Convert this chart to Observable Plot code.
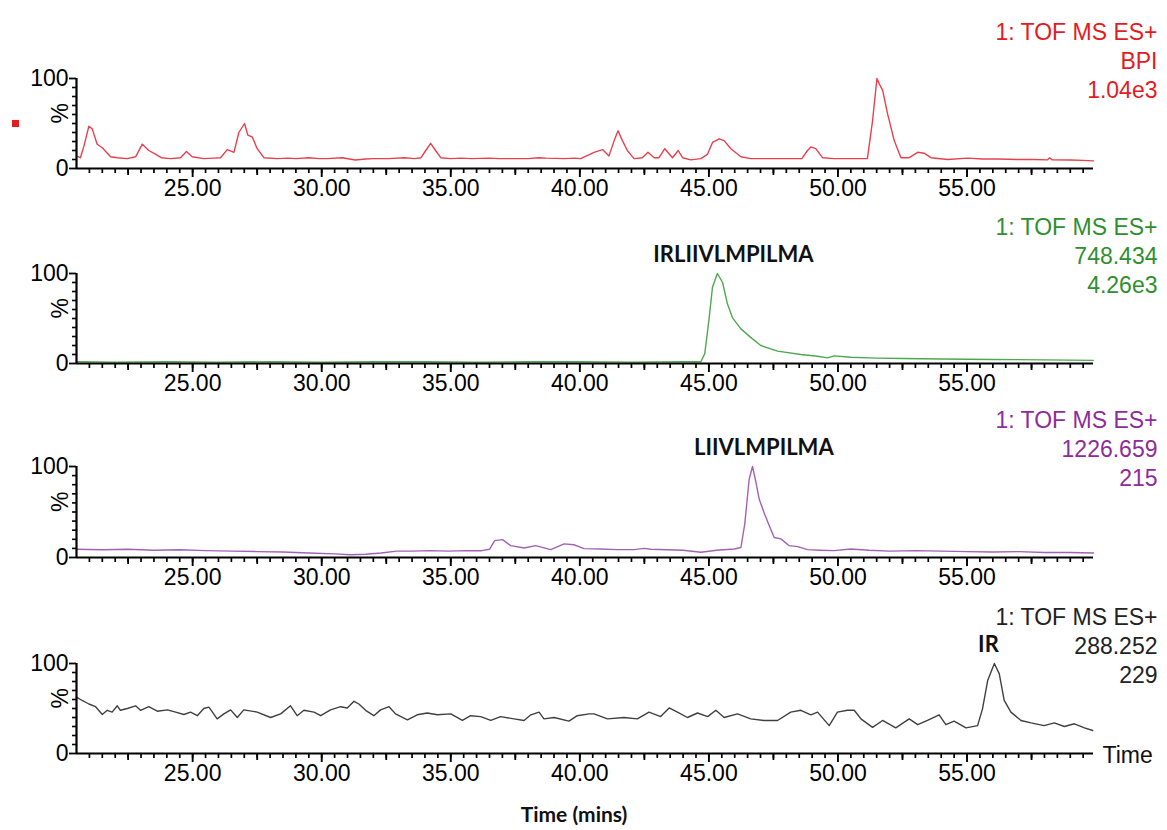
<!DOCTYPE html>
<html><head><meta charset="utf-8">
<script src="https://cdn.jsdelivr.net/npm/d3@7"></script>
<script src="https://cdn.jsdelivr.net/npm/@observablehq/plot@0.6"></script>
<style>
body{margin:0;background:#fff;overflow:hidden}
#chart{position:relative;width:1167px;height:830px}
#chart svg{position:absolute;left:0}
</style></head><body><div id="chart"></div>
<script>
// ---- axis ticks ----
const xDomain = [20.5, 59.9];
const majorTicks = [25, 30, 35, 40, 45, 50, 55];
const midTicks = [22.5, 27.5, 32.5, 37.5, 42.5, 47.5, 52.5, 57.5];
const minorTicks = d3.range(21, 60, 0.5);
const yMajorTicks = [0, 100];
const yMinorTicks = [10, 20, 30, 40, 50, 60, 70, 80, 90];

// ---- panel 1: BPI ----
const bpiTime = [20.5,20.65,20.78,20.98,21.11,21.3,21.5,21.82,22.08,22.46,22.79,23.05,23.3,23.56,23.78,24.14,24.53,24.76,24.98,25.43,25.8,26.08,26.34,26.6,26.79,27.01,27.14,27.31,27.5,27.76,28.28,28.7,29.0,29.5,29.9,30.2,30.8,31.3,31.7,32.0,32.6,33.2,33.6,33.85,34.03,34.22,34.41,34.61,35.0,35.4,35.8,36.5,36.9,37.2,38.0,38.4,38.7,39.4,39.8,40.03,40.55,40.88,41.13,41.33,41.48,41.65,41.84,42.1,42.42,42.64,42.88,43.07,43.29,43.59,43.81,43.98,44.3,44.69,44.95,45.14,45.4,45.59,45.85,46.24,46.62,47.2,47.8,48.3,48.6,48.82,48.95,49.14,49.4,49.85,50.5,51.14,51.34,51.51,51.6,51.73,51.92,52.18,52.44,52.76,53.09,53.34,53.6,54.25,55.03,55.6,56.18,57.0,57.6,58.12,58.2,58.3,59.0,59.5,59.9];
const bpiPct  = [14,12,24,47,44,27,23,13,12,11,13,27,20,16,12,11,12,19,13,11,11.5,12,21,18,40,50,37,35,22,12,11,11.5,11,12,11,11,12,9.5,10.5,11,11,12,11,12,20,28,20,12,11,11.5,11,11.5,11,11,11,12,11.5,11,11.5,11,18,21,14,31,42,31,20,11,12,18,12,12,22,12,20,12,9.6,11,16,29,33,31,22,13,11,11,11,11,11,20,24,22,12,11,11,11,53,100,94,87,61,31,12,12,18,17,12,10,11.5,10.5,10.5,10,10,9.6,12,9.6,9.5,9,8.5];

// ---- panel 2: 748.434 ----
const p748Time = [20.5,22,24,26,28,30,32,34,36,38,40,42,44,44.69,44.84,45.0,45.14,45.33,45.53,45.72,45.91,46.24,46.62,47.01,47.66,48.56,49.2,49.6,49.85,50.5,51.5,52.5,54,56,58,59.9];
const p748Pct  = [2,1.5,2,1.5,2,1.5,2,2,1.5,2,2,1.5,2,2,11,48,85,100,90,66,51,38.5,29,20,13.7,10,8,6.3,8.5,7,6,5.5,5,4.5,4,3.5];

// ---- panel 3: 1226.659 ----
const p1226Time = [20.5,21.5,22.5,23.5,24.5,25.5,26.5,27.5,28.5,29.5,30.5,31.1,31.7,32.3,32.9,33.5,34.2,34.9,35.6,36.2,36.5,36.7,37.0,37.32,37.84,38.29,38.87,39.39,39.77,40.16,40.81,41.46,42.1,42.5,42.75,43.4,44.0,44.69,45.3,45.98,46.24,46.39,46.56,46.69,46.82,46.95,47.14,47.34,47.53,47.79,48.11,48.44,48.82,49.3,49.85,50.5,51.2,52,53,54,55,56,57,58,59,59.9];
const p1226Pct  = [9,8.5,9,8,8.5,7.5,7,6.5,6,5,4,3,3.5,5,7,7,7.5,7,7.5,7.5,9,18.5,19.6,13,10.5,13,8.7,15,14,9.8,9.4,8.7,8.6,10,9,8.5,8,5.8,8,9.4,11,37,86,100,83,64,49,35,22,20.5,13,12,8.6,8,7.5,9.4,8,7,7.5,7,6.5,6,6.5,5.5,5.5,5];

// ---- panel 4: 288.252 ----
const p288Time = [20.5,20.72,20.98,21.24,21.5,21.69,21.88,22.08,22.2,22.47,22.79,22.98,23.3,23.63,24.02,24.34,24.66,24.92,25.18,25.43,25.63,25.95,26.21,26.47,26.73,26.98,27.5,28.02,28.41,28.79,29.05,29.31,29.7,29.96,30.34,30.73,30.99,31.25,31.44,31.7,32.02,32.28,32.61,32.86,33.32,33.7,34.09,34.48,35.0,35.45,35.77,36.16,36.55,36.93,37.45,37.84,38.1,38.42,38.61,39.0,39.58,39.9,40.36,40.55,41.07,41.71,42.23,42.68,43.13,43.46,43.78,44.17,44.56,44.95,45.27,45.59,46.11,46.62,47.14,47.66,48.17,48.56,48.95,49.21,49.66,49.98,50.37,50.63,50.89,51.34,51.73,52.24,52.76,53.09,53.47,53.92,54.18,54.5,54.96,55.41,55.6,55.8,56.06,56.25,56.44,56.7,57.09,57.48,57.99,58.38,58.77,59.16,59.55,59.87];
const p288Pct  = [62.6,58.9,55,52,43.3,48,46,53,48,50,53,48,52,47,48.5,46,43.3,46,42,50,51.5,38.5,44,48.5,40,48.5,46,40,44,53,42,48,46,42,48.5,52,50.5,58,55,48,42,48.5,52,44,37.4,43,45,43,44,36.7,42,41,36.7,41,38.5,36.7,43,46,38.5,40,36,42,44,44,38.5,40,38.5,46,41,50.6,46,40,45,41,48,40,44,38.5,36.7,36.7,46,48,43,46,31,46,48,48,38.5,29,36.7,28.5,38.5,32,36.7,43,32,36,28.5,31,49.6,81,100,88.5,59,46,36.7,34,31,34,30,33,28.5,25.6];

// ---- texts ----
const panelLabels = [
  ["1: TOF MS ES+", "BPI", "1.04e3"],
  ["1: TOF MS ES+", "748.434", "4.26e3"],
  ["1: TOF MS ES+", "1226.659", "215"],
  ["1: TOF MS ES+", "288.252", "229"]
];
const peakNames = [null, "IRLIIVLMPILMA", "LIIVLMPILMA", "IR"];
const peakLabelTime = [null, 45.95, 47.13, 55.83];
const xAxisTitle = "Time (mins)";
const endLabel = "Time";

const FONT = "'Liberation Sans', Arial, Helvetica, sans-serif";
const BOLD = "Lato, Carlito, 'Open Sans', sans-serif";

const W = 1167, ML = 76, MR = 74;
const panels = [
  {time: bpiTime, pct: bpiPct, line: "#e8404e", text: "#e31b23", top: 0, mt: 78, h: 195, mb: 27},
  {time: p748Time, pct: p748Pct, line: "#4fa84f", text: "#2f8f2f", top: 195, mt: 78, h: 195, mb: 27},
  {time: p1226Time, pct: p1226Pct, line: "#a262b4", text: "#8e2c9c", top: 389, mt: 77, h: 195, mb: 27},
  {time: p288Time, pct: p288Pct, line: "#404040", text: "#222222", top: 585, mt: 78, h: 245, mb: 77}
];

const chart = document.getElementById("chart");
panels.forEach((p, i) => {
  const fh = p.h - p.mt - p.mb;     // frame height
  const fw = W - ML - MR;           // frame width
  const data = p.time.map((t, j) => ({t, v: p.pct[j]}));
  // tick marks hang below / left of the frame edge via insets
  const xTick = (vals, len, sw) => Plot.ruleX(vals, {insetTop: fh, insetBottom: -len, stroke: "#000", strokeWidth: sw});
  const yTick = (vals, len, sw) => Plot.ruleY(vals, {insetRight: fw, insetLeft: -len, stroke: "#000", strokeWidth: sw});
  const marks = [
    Plot.line(data, {x: "t", y: "v", stroke: p.line, strokeWidth: 1.4}),
    xTick(minorTicks, 5, 1.7),
    xTick(midTicks, 7, 1.8),
    xTick(majorTicks, 9, 1.9),
    yTick(yMinorTicks, 4, 1.6),
    yTick(yMajorTicks, 7, 1.8),
    Plot.axisX({ticks: majorTicks, tickSize: 0, tickPadding: 11, tickFormat: d3.format(".2f"), label: null, fontSize: 23, fill: "#000"}),
    Plot.axisY({ticks: yMajorTicks, tickSize: 0, tickPadding: 8, label: null, fontSize: 23, fill: "#000"}),
    Plot.ruleY([0], {stroke: "#000", strokeWidth: 2.2}),
    Plot.ruleX([xDomain[0]], {y1: 0, y2: 100, stroke: "#000", strokeWidth: 2.2}),
    Plot.text(["%"], {frameAnchor: "left", rotate: -90, dx: -16, fontSize: 23, fill: "#000"}),
    Plot.text([panelLabels[i].join("\n")], {frameAnchor: "top-right", textAnchor: "end", lineAnchor: "middle", lineHeight: 1.27, dx: 64, dy: -19, fontSize: 23, fill: p.text})
  ];
  if (peakNames[i]) {
    const peakVal = d3.max(p.pct);
    marks.push(Plot.text([{t: peakLabelTime[i], v: peakVal, name: peakNames[i]}], {x: "t", y: "v", text: "name", dy: -19, lineAnchor: "middle", fontFamily: BOLD, fontWeight: "bold", fontSize: 22, fill: "#111"}));
  }
  if (i === 0) {
    marks.push(Plot.dot([0], {frameAnchor: "left", dx: -61, symbol: "square", r: 4, fill: "#e31b23", stroke: "none"}));
  }
  if (i === 3) {
    marks.push(Plot.text([endLabel], {frameAnchor: "bottom-right", textAnchor: "start", lineAnchor: "middle", dx: 9, dy: 2, fontSize: 23, fill: "#111"}));
    marks.push(Plot.text([xAxisTitle], {frameAnchor: "bottom", lineAnchor: "middle", dx: -11, dy: 62, fontFamily: BOLD, fontWeight: "bold", fontSize: 21, fill: "#111"}));
  }
  const svg = Plot.plot({
    width: W,
    height: p.h,
    marginTop: p.mt,
    marginBottom: p.mb,
    marginLeft: ML,
    marginRight: MR,
    x: {domain: xDomain, label: null},
    y: {domain: [0, 100], label: null},
    style: {fontFamily: FONT, fontSize: "23px", color: "#000", background: "transparent", overflow: "visible"},
    marks
  });
  svg.style.top = p.top + "px";
  chart.appendChild(svg);
});
</script>
</body></html>
